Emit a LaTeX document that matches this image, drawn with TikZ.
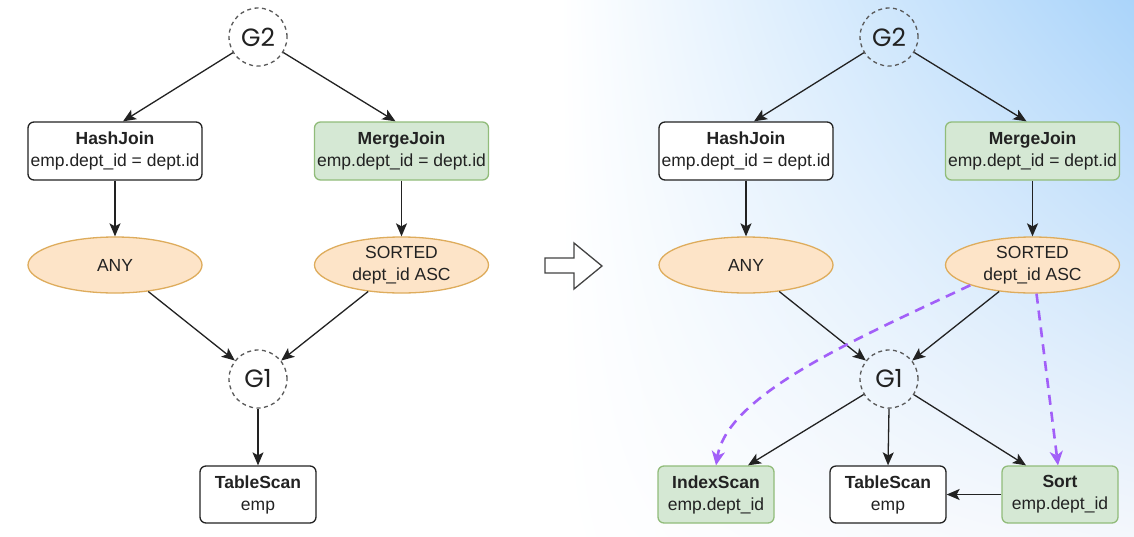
\documentclass[tikz,border=0pt]{standalone}
\usepackage{fontspec}
\setmainfont{Liberation Sans}
\newfontfamily\gfont{Poppins}
\usetikzlibrary{arrows.meta,calc,shapes.geometric,shadings}
\definecolor{grfill}{RGB}{213,232,212}
\definecolor{grline}{RGB}{145,188,122}
\definecolor{orfill}{RGB}{253,228,200}
\definecolor{orline}{RGB}{222,172,92}
\definecolor{purp}{RGB}{162,95,248}
\definecolor{ink}{RGB}{34,34,34}
\definecolor{bgblue}{RGB}{170,212,250}
\definecolor{bgpale}{RGB}{244,247,252}
\begin{document}
\begin{tikzpicture}[x=1pt,y=-1pt,
  every node/.style={text=ink},
  opbox/.style={rectangle, rounded corners=6pt, draw=ink, line width=1.3pt, fill=white,
    minimum width=174pt, minimum height=58pt, inner sep=0pt, align=center,
    font=\fontsize{17.5}{22}\selectfont},
  greenop/.style={opbox, fill=grfill, draw=grline},
  scanbox/.style={opbox, minimum width=116pt, minimum height=57pt},
  greenscan/.style={scanbox, fill=grfill, draw=grline},
  propell/.style={ellipse, draw=orline, fill=orfill, line width=1.3pt,
    minimum width=174pt, minimum height=56pt, inner sep=0pt, align=center,
    font=\fontsize{17.5}{22}\selectfont},
  grp/.style={circle, draw=ink!75, dash pattern=on 4pt off 3.5pt, line width=1.3pt,
    minimum size=58pt, inner sep=0pt, font=\gfont\fontsize{25}{25}\selectfont},
  arr/.style={draw=ink, line width=1.3pt, -{Stealth[length=13pt,width=11pt,inset=3pt]}},
  parr/.style={draw=purp, line width=2.6pt, dash pattern=on 10pt off 7pt,
    -{Stealth[length=14pt,width=13pt,inset=4pt]}},
]
\useasboundingbox (0,0) rectangle (1134,536);
\fill[white] (0,0) rectangle (1134,536);
\shade[upper left=white, upper right=bgblue, lower left=white, lower right=bgpale]
  (560,0) rectangle (1134,536);

% ---------- left diagram ----------
\node[grp] (g2l) at (258,37) {G2};
\node[opbox] (hjl) at (115,151) {\textbf{HashJoin}\\emp.dept\_id = dept.id};
\node[greenop] (mjl) at (401.5,151) {\textbf{MergeJoin}\\emp.dept\_id = dept.id};
\node[propell] (anyl) at (115,265) {ANY};
\node[propell] (srl) at (401.5,265) {SORTED\\dept\_id ASC};
\node[grp] (g1l) at (258,379) {G1};
\node[scanbox] (tsl) at (258,494.5) {\textbf{TableScan}\\emp};

\draw[arr] (g2l) -- ([xshift=8pt]hjl.north);
\draw[arr] (g2l) -- ([xshift=-6pt]mjl.north);
\draw[arr] (hjl.south) -- (anyl.north);
\draw[arr] (mjl.south) -- (srl.north);
\draw[arr] (anyl) -- (g1l);
\draw[arr] (srl) -- (g1l);
\draw[arr] (g1l.south) -- (tsl.north);

% ---------- transition arrow ----------
\draw[draw=ink!85, fill=white, line width=1.3pt, line join=miter]
  (545,258) -- (574,258) -- (574,243) -- (602,266) -- (574,289) -- (574,273) -- (545,273) -- cycle;

% ---------- right diagram ----------
\node[grp] (g2r) at (889,37) {G2};
\node[opbox] (hjr) at (746,151) {\textbf{HashJoin}\\emp.dept\_id = dept.id};
\node[greenop] (mjr) at (1032.5,151) {\textbf{MergeJoin}\\emp.dept\_id = dept.id};
\node[propell] (anyr) at (746,265) {ANY};
\node[propell] (srr) at (1032.5,265) {SORTED\\dept\_id ASC};
\node[grp] (g1r) at (889,379) {G1};
\node[greenscan] (isr) at (716,494.5) {\textbf{IndexScan}\\emp.dept\_id};
\node[scanbox] (tsr) at (888,494.5) {\textbf{TableScan}\\emp};
\node[greenscan] (sor) at (1060,494.5) {\textbf{Sort}\\emp.dept\_id};

\draw[arr] (g2r) -- ([xshift=8pt]hjr.north);
\draw[arr] (g2r) -- ([xshift=-6pt]mjr.north);
\draw[arr] (hjr.south) -- (anyr.north);
\draw[arr] (mjr.south) -- (srr.north);
\draw[arr] (anyr) -- (g1r);
\draw[arr] (srr) -- (g1r);
\draw[arr] (g1r) -- ([xshift=32pt]isr.north);
\draw[arr] (g1r.south) -- (tsr.north);
\draw[arr] (g1r) -- ([xshift=-34pt]sor.north);
\draw[arr] (sor.west) -- (tsr.east);

\draw[parr] (srr.198) .. controls ($(srr.198)+(-110,52)$) and ($(isr.north)+(12,-72)$) .. (isr.north);
\draw[parr] ([xshift=4pt]srr.south) -- ([xshift=-2pt]sor.north);
\end{tikzpicture}
\end{document}
